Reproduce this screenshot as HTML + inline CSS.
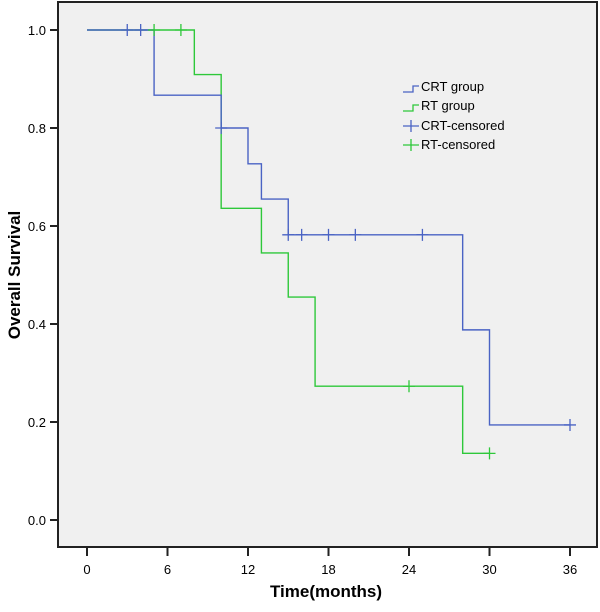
<!DOCTYPE html>
<html><head><meta charset="utf-8"><style>body{margin:0;background:#fff}svg{display:block;font-family:"Liberation Sans",Arial,sans-serif}</style></head>
<body>
<svg id="c" width="600" height="612" viewBox="0 0 600 612">
<rect x="58" y="2" width="539" height="545" fill="#f0f0f0" stroke="#222" stroke-width="2"/>
<g id="ax"></g><g id="lines"></g>
<text x="20" y="275" font-size="17" font-weight="bold" text-anchor="middle" transform="rotate(-90 20 275)">Overall Survival</text>
<text x="326" y="597" font-size="17" font-weight="bold" text-anchor="middle">Time(months)</text>
<g font-size="13">
<g><path d="M403,92 H413 V86 H419" fill="none" stroke="#4a63c4" stroke-width="1.3"/><text x="421" y="91">CRT group</text></g>
<g><path d="M403,111 H413 V105 H419" fill="none" stroke="#2ec83a" stroke-width="1.3"/><text x="421" y="110">RT group</text></g>
<g><path d="M403,126 H419 M411,120 V132" stroke="#4a63c4" stroke-width="1.3"/><text x="421" y="130">CRT-censored</text></g>
<g><path d="M403,145 H419 M411,139 V151" stroke="#2ec83a" stroke-width="1.3"/><text x="421" y="149">RT-censored</text></g>
</g>
</svg>
<script>
const xTicks=[0,6,12,18,24,30,36];
const yTicks=[0.0,0.2,0.4,0.6,0.8,1.0];
const crtTimes=[0,5,10,12,13,15,28,30,36];
const crtSurv=[1.0,0.867,0.8,0.727,0.655,0.582,0.388,0.194,0.194];
const crtCensT=[3,4,10,15,16,18,20,25,36];
const crtCensS=[1.0,1.0,0.8,0.582,0.582,0.582,0.582,0.582,0.194];
const rtTimes=[0,8,10,13,15,17,28,30];
const rtSurv=[1.0,0.909,0.636,0.545,0.455,0.273,0.136,0.136];
const rtCensT=[5,7,24,30];
const rtCensS=[1.0,1.0,0.273,0.136];
const X=t=>87+t*(570-87)/36, Y=s=>520-s*(520-30);
const NS="http://www.w3.org/2000/svg";
const ax=document.getElementById('ax'), L=document.getElementById('lines');
function mk(tag,a,p){const e=document.createElementNS(NS,tag);for(const k in a)e.setAttribute(k,a[k]);p.appendChild(e);return e;}
xTicks.forEach(t=>{
 const l=mk('line',{x1:X(t),x2:X(t),y1:547,y2:556,stroke:'#222','stroke-width':2},ax);
 
 
 const tx=mk('text',{x:X(t),y:574,'font-size':13,'text-anchor':'middle'},ax);tx.textContent=t;
 
 
});
yTicks.forEach(s=>{
 const l=mk('line',{x1:50,x2:58,y1:Y(s),y2:Y(s),stroke:'#222','stroke-width':2},ax);
 
 
 const tx=mk('text',{x:46,y:Y(s)+5,'font-size':13,'text-anchor':'end'},ax);tx.textContent=s.toFixed(1);
 
 
});
function step(T,S,col,name){
 let d='M'+X(T[0])+','+Y(S[0]);
 for(let i=1;i<T.length;i++){d+=' H'+X(T[i])+' V'+Y(S[i]);}
 const p=mk('path',{d:d,fill:'none',stroke:col,'stroke-width':1.4},L);
 
 
}
function cens(T,S,col,name){
 T.forEach((t,i)=>{const x=X(t),y=Y(S[i]);
  const p=mk('path',{d:`M${x-6},${y} H${x+6} M${x},${y-6} V${y+6}`,stroke:col,'stroke-width':1.3},L);
  
  });
}
step(rtTimes,rtSurv,'#2ec83a','rt-survival-line');
step(crtTimes,crtSurv,'#4a63c4','crt-survival-line');
cens(rtCensT,rtCensS,'#2ec83a','rt-censored-mark');
cens(crtCensT,crtCensS,'#4a63c4','crt-censored-mark');
</script>
</body></html>
